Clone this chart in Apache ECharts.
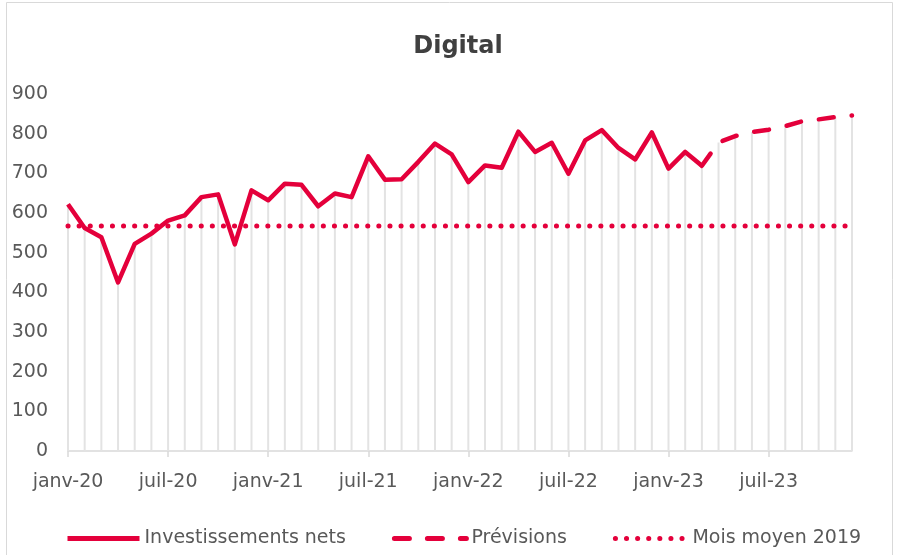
<!DOCTYPE html>
<html>
<head>
<meta charset="utf-8">
<script src="https://cdn.jsdelivr.net/npm/echarts@6/dist/echarts.min.js"></script>
<style>
  html, body { margin: 0; padding: 0; background: #fff; }
  #chart { width: 897px; height: 555px; }
</style>
</head>
<body>
<div id="chart"></div>
<script>
// mois de janv-20 a dec-23
const months = ['janv', 'févr', 'mars', 'avr', 'mai', 'juin', 'juil', 'août', 'sept', 'oct', 'nov', 'déc'];
const years = ['20', '21', '22', '23'];
const categories = [];
years.forEach(y => months.forEach(m => categories.push(m + '-' + y)));

// investissements nets, janv-20 -> mars-23
const actual = [622, 562, 539, 425, 522, 548, 581, 594, 640, 647, 521, 657,
                632, 674, 671, 617, 649, 640, 743, 684, 685, 729, 775, 748,
                678, 720, 714, 805, 754, 777, 699, 783, 809, 764, 735, 803,
                712, 754, 719];
// prévisions, mars-23 -> déc-23
const forecast = [719, 778, 794, 804, 810, 819, 831, 836, 842, 846];
// mois moyen 2019
const avg2019 = 567;

const nActual = actual.length;
const actualData = categories.map((c, i) => i < nActual ? actual[i] : null);
const forecastData = categories.map((c, i) => i >= nActual - 1 ? forecast[i - nActual + 1] : null);
const avgData = categories.map(() => avg2019);
// lignes de projection (gris) jusqu'a la courbe
const dropData = categories.map((c, i) => i < nActual ? actual[i] : forecast[i - nActual + 1]);

const red = '#e4003b';
const font = 'DejaVu Sans';

const chart = echarts.init(document.getElementById('chart'));
chart.setOption({
  backgroundColor: '#ffffff',
  animation: false,
  textStyle: { fontFamily: font },
  title: {
    text: 'Digital',
    left: 453,
    textAlign: 'center',
    top: 30,
    textStyle: { fontSize: 24, fontWeight: 'bold', color: '#404040', fontFamily: font }
  },
  graphic: [{
    type: 'rect',
    shape: { x: 6.5, y: 2.5, width: 886, height: 560 },
    style: { fill: 'none', stroke: '#d9d9d9', lineWidth: 1 },
    silent: true
  }],
  legend: {
    data: ['Investissements nets', 'Prévisions', 'Mois moyen 2019'],
    bottom: 2,
    left: 60,
    itemWidth: 72,
    itemHeight: 10,
    itemGap: 46,
    itemStyle: { opacity: 0 },
    lineStyle: { width: 5 },
    textStyle: { fontSize: 19, color: '#595959' }
  },
  grid: { left: 68, right: 45, top: 94, bottom: 104 },
  xAxis: {
    type: 'category',
    data: categories,
    boundaryGap: false,
    axisLine: { lineStyle: { color: '#d9d9d9', width: 1.5 } },
    axisTick: { interval: 5, length: 6, lineStyle: { color: '#d9d9d9', width: 1.5 } },
    axisLabel: { interval: 5, fontSize: 19, color: '#595959', margin: 22 },
    splitLine: { show: false }
  },
  yAxis: {
    type: 'value',
    min: 0,
    max: 900,
    interval: 100,
    axisLine: { show: false },
    axisTick: { show: false },
    splitLine: { show: false },
    axisLabel: { fontSize: 19, color: '#595959', margin: 20 }
  },
  series: [
    {
      name: 'drop',
      type: 'bar',
      data: dropData,
      barWidth: 2,
      itemStyle: { color: '#e3e3e3' },
      silent: true,
      z: 1
    },
    {
      name: 'Mois moyen 2019',
      type: 'line',
      data: avgData,
      symbol: 'none',
      lineStyle: { color: red, width: 5, type: [0.1, 11], cap: 'round' },
      itemStyle: { color: red },
      z: 3
    },
    {
      name: 'Prévisions',
      type: 'line',
      data: forecastData,
      symbol: 'none',
      lineStyle: { color: red, width: 4.5, type: [15, 18], cap: 'round' },
      itemStyle: { color: red },
      z: 4
    },
    {
      name: 'Investissements nets',
      type: 'line',
      data: actualData,
      symbol: 'none',
      lineStyle: { color: red, width: 4.5, join: 'round' },
      itemStyle: { color: red },
      z: 5
    }
  ]
});
</script>
</body>
</html>
